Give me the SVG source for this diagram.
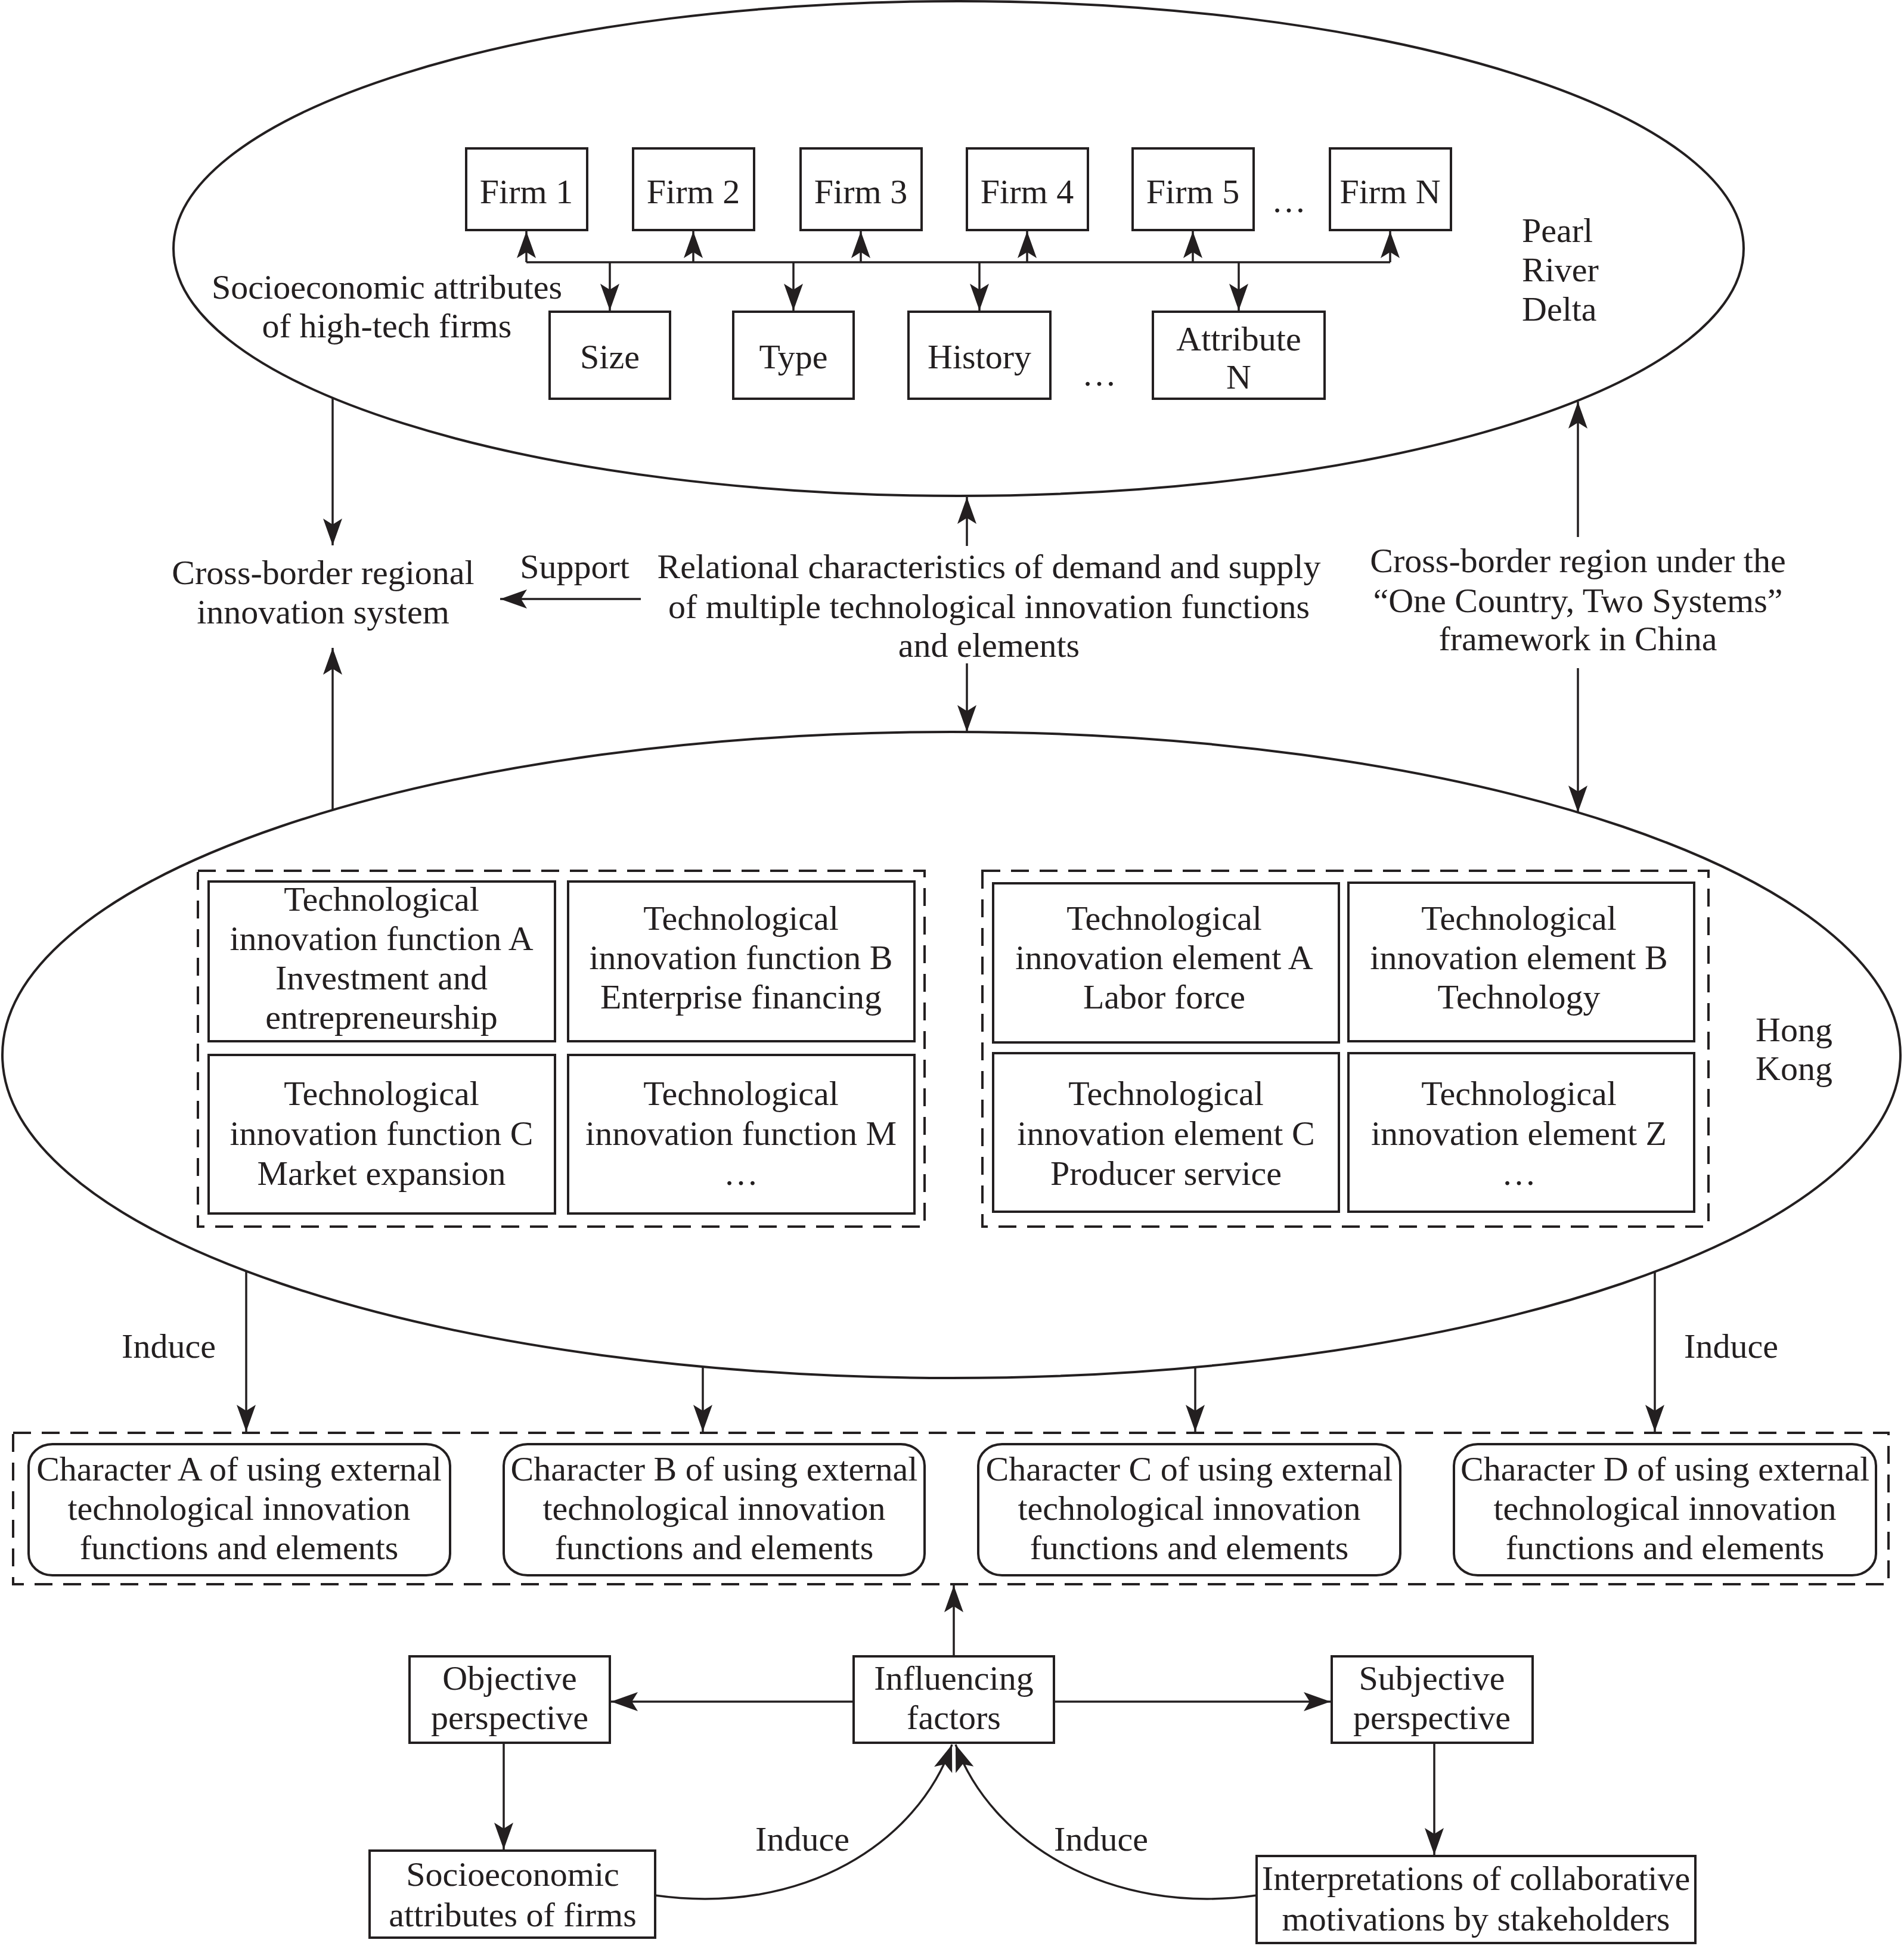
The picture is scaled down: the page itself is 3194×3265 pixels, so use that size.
<svg xmlns="http://www.w3.org/2000/svg" width="3194" height="3265" viewBox="0 0 3194 3265">
<style>
.bg{fill:#ffffff}
.sh{fill:none;stroke:#231f20;stroke-width:4}
.bx{fill:#ffffff;stroke:#231f20;stroke-width:4}
.ds{fill:none;stroke:#231f20;stroke-width:4;stroke-dasharray:30 18}
.ln{fill:none;stroke:#231f20;stroke-width:3.5;marker-end:url(#ah)}
.pl{fill:none;stroke:#231f20;stroke-width:3.5}
text{font-family:"Liberation Serif","Times New Roman",serif;font-size:58px;fill:#231f20}
.c{text-anchor:middle}
.l{text-anchor:start}
</style>
<defs>
<marker id="ah" viewBox="0 0 48 36" markerWidth="48" markerHeight="36" refX="46" refY="18" orient="auto" markerUnits="userSpaceOnUse">
<path d="M1,2 L46,18 L1,34 L11,18 Z" fill="#231f20"/>
</marker>
</defs>
<rect class="bg" x="0" y="0" width="3194" height="3265"/>

<g id="prd-region">
<ellipse class="sh" cx="1608" cy="417" rx="1317" ry="415"/>
<text class="l"><tspan x="2553" y="406">Pearl</tspan><tspan x="2553" y="472">River</tspan><tspan x="2553" y="538">Delta</tspan></text>
<text class="c"><tspan x="649" y="501">Socioeconomic attributes</tspan><tspan x="649" y="566">of high-tech firms</tspan></text>
<text class="c" x="2162" y="356">…</text>
<text class="c" x="1844" y="647">…</text>
</g>

<g id="firm1"><rect class="bx" x="782" y="249" width="203" height="137"/><text class="c" x="883" y="341">Firm 1</text></g>
<g id="firm2"><rect class="bx" x="1062" y="249" width="203" height="137"/><text class="c" x="1163" y="341">Firm 2</text></g>
<g id="firm3"><rect class="bx" x="1343" y="249" width="203" height="137"/><text class="c" x="1444" y="341">Firm 3</text></g>
<g id="firm4"><rect class="bx" x="1622" y="249" width="203" height="137"/><text class="c" x="1723" y="341">Firm 4</text></g>
<g id="firm5"><rect class="bx" x="1900" y="249" width="203" height="137"/><text class="c" x="2001" y="341">Firm 5</text></g>
<g id="firmN"><rect class="bx" x="2231" y="249" width="203" height="137"/><text class="c" x="2332" y="341">Firm N</text></g>

<g id="size"><rect class="bx" x="922" y="523" width="202" height="146"/><text class="c" x="1023" y="618">Size</text></g>
<g id="type"><rect class="bx" x="1230" y="523" width="202" height="146"/><text class="c" x="1331" y="618">Type</text></g>
<g id="history"><rect class="bx" x="1524" y="523" width="238" height="146"/><text class="c" x="1643" y="618">History</text></g>
<g id="attributeN"><rect class="bx" x="1934" y="523" width="288" height="146"/><text class="c"><tspan x="2078" y="588">Attribute</tspan><tspan x="2078" y="652">N</tspan></text></g>

<g id="cross-border-ris"><text class="c"><tspan x="542" y="980">Cross-border regional</tspan><tspan x="542" y="1046">innovation system</tspan></text></g>
<g id="relational"><text class="c"><tspan x="1659" y="970">Relational characteristics of demand and supply</tspan><tspan x="1659" y="1037">of multiple technological innovation functions</tspan><tspan x="1659" y="1102">and elements</tspan></text></g>
<g id="one-country"><text class="c"><tspan x="2647" y="960">Cross-border region under the</tspan><tspan x="2647" y="1027">“One Country, Two Systems”</tspan><tspan x="2647" y="1091">framework in China</tspan></text></g>

<g id="hk-region">
<ellipse class="sh" cx="1596" cy="1770" rx="1592" ry="542"/>
<text class="l"><tspan x="2945" y="1747">Hong</tspan><tspan x="2945" y="1812">Kong</tspan></text>
</g>

<g id="functions">
<rect class="ds" x="332" y="1461" width="1219" height="597"/>
<g id="funcA"><rect class="bx" x="350" y="1479" width="581" height="268"/><text class="c"><tspan x="640" y="1528">Technological</tspan><tspan x="640" y="1594">innovation function A</tspan><tspan x="640" y="1660">Investment and</tspan><tspan x="640" y="1726">entrepreneurship</tspan></text></g>
<g id="funcB"><rect class="bx" x="953" y="1479" width="581" height="268"/><text class="c"><tspan x="1243" y="1560">Technological</tspan><tspan x="1243" y="1626">innovation function B</tspan><tspan x="1243" y="1692">Enterprise financing</tspan></text></g>
<g id="funcC"><rect class="bx" x="350" y="1770" width="581" height="266"/><text class="c"><tspan x="640" y="1854">Technological</tspan><tspan x="640" y="1921">innovation function C</tspan><tspan x="640" y="1988">Market expansion</tspan></text></g>
<g id="funcM"><rect class="bx" x="953" y="1770" width="581" height="266"/><text class="c"><tspan x="1243" y="1854">Technological</tspan><tspan x="1243" y="1921">innovation function M</tspan><tspan x="1243" y="1988">…</tspan></text></g>
</g>

<g id="elements">
<rect class="ds" x="1648" y="1461" width="1218" height="597"/>
<g id="elemA"><rect class="bx" x="1666" y="1482" width="580" height="267"/><text class="c"><tspan x="1953" y="1560">Technological</tspan><tspan x="1953" y="1626">innovation element A</tspan><tspan x="1953" y="1692">Labor force</tspan></text></g>
<g id="elemB"><rect class="bx" x="2262" y="1481" width="580" height="266"/><text class="c"><tspan x="2548" y="1560">Technological</tspan><tspan x="2548" y="1626">innovation element B</tspan><tspan x="2548" y="1692">Technology</tspan></text></g>
<g id="elemC"><rect class="bx" x="1666" y="1767" width="580" height="266"/><text class="c"><tspan x="1956" y="1854">Technological</tspan><tspan x="1956" y="1921">innovation element C</tspan><tspan x="1956" y="1988">Producer service</tspan></text></g>
<g id="elemZ"><rect class="bx" x="2262" y="1767" width="580" height="266"/><text class="c"><tspan x="2548" y="1854">Technological</tspan><tspan x="2548" y="1921">innovation element Z</tspan><tspan x="2548" y="1988">…</tspan></text></g>
</g>

<g id="characters">
<rect class="ds" x="22" y="2404" width="3146" height="254"/>
<g id="charA"><rect class="bx" x="48" y="2423" width="707" height="220" rx="40" ry="36"/><text class="c"><tspan x="401" y="2484">Character A of using external</tspan><tspan x="401" y="2550">technological innovation</tspan><tspan x="401" y="2616">functions and elements</tspan></text></g>
<g id="charB"><rect class="bx" x="845" y="2423" width="706" height="220" rx="40" ry="36"/><text class="c"><tspan x="1198" y="2484">Character B of using external</tspan><tspan x="1198" y="2550">technological innovation</tspan><tspan x="1198" y="2616">functions and elements</tspan></text></g>
<g id="charC"><rect class="bx" x="1641" y="2423" width="708" height="220" rx="40" ry="36"/><text class="c"><tspan x="1995" y="2484">Character C of using external</tspan><tspan x="1995" y="2550">technological innovation</tspan><tspan x="1995" y="2616">functions and elements</tspan></text></g>
<g id="charD"><rect class="bx" x="2439" y="2423" width="708" height="220" rx="40" ry="36"/><text class="c"><tspan x="2793" y="2484">Character D of using external</tspan><tspan x="2793" y="2550">technological innovation</tspan><tspan x="2793" y="2616">functions and elements</tspan></text></g>
</g>

<g id="objective"><rect class="bx" x="687" y="2779" width="336" height="145"/><text class="c"><tspan x="855" y="2835">Objective</tspan><tspan x="855" y="2901">perspective</tspan></text></g>
<g id="influencing"><rect class="bx" x="1432" y="2779" width="336" height="145"/><text class="c"><tspan x="1600" y="2835">Influencing</tspan><tspan x="1600" y="2901">factors</tspan></text></g>
<g id="subjective"><rect class="bx" x="2234" y="2779" width="337" height="145"/><text class="c"><tspan x="2402" y="2835">Subjective</tspan><tspan x="2402" y="2901">perspective</tspan></text></g>
<g id="socio-firms"><rect class="bx" x="620" y="3105" width="479" height="146"/><text class="c"><tspan x="860" y="3164">Socioeconomic</tspan><tspan x="860" y="3232">attributes of firms</tspan></text></g>
<g id="interpretations"><rect class="bx" x="2108" y="3114" width="736" height="146"/><text class="c"><tspan x="2476" y="3171">Interpretations of collaborative</tspan><tspan x="2476" y="3239">motivations by stakeholders</tspan></text></g>

<g id="connectors">
<path class="pl" d="M883,440 L2332,440"/>
<line class="ln" x1="883" y1="440" x2="883" y2="388"/>
<line class="ln" x1="1163" y1="440" x2="1163" y2="388"/>
<line class="ln" x1="1444" y1="440" x2="1444" y2="388"/>
<line class="ln" x1="1723" y1="440" x2="1723" y2="388"/>
<line class="ln" x1="2001" y1="440" x2="2001" y2="388"/>
<line class="ln" x1="2332" y1="440" x2="2332" y2="388"/>
<line class="ln" x1="1023" y1="440" x2="1023" y2="521"/>
<line class="ln" x1="1331" y1="440" x2="1331" y2="521"/>
<line class="ln" x1="1643" y1="440" x2="1643" y2="521"/>
<line class="ln" x1="2078" y1="440" x2="2078" y2="521"/>

<line class="ln" x1="558" y1="667" x2="558" y2="915"/>
<line class="ln" x1="558" y1="1359" x2="558" y2="1087"/>
<line class="ln" x1="1075" y1="1005" x2="839" y2="1005"/>
<line class="ln" x1="1622" y1="916" x2="1622" y2="834"/>
<line class="ln" x1="1622" y1="1113" x2="1622" y2="1228"/>
<line class="ln" x1="2647" y1="901" x2="2647" y2="674"/>
<line class="ln" x1="2647" y1="1121" x2="2647" y2="1363"/>

<line class="ln" x1="413" y1="2133" x2="413" y2="2402"/>
<line class="ln" x1="1179" y1="2294" x2="1179" y2="2402"/>
<line class="ln" x1="2005" y1="2295" x2="2005" y2="2402"/>
<line class="ln" x1="2776" y1="2134" x2="2776" y2="2402"/>
<text class="c" x="283" y="2278">Induce</text>
<text class="c" x="2904" y="2278">Induce</text>
<text class="c" x="964" y="970">Support</text>

<line class="ln" x1="1600" y1="2779" x2="1600" y2="2660"/>
<line class="ln" x1="1432" y1="2855" x2="1025" y2="2855"/>
<line class="ln" x1="1768" y1="2855" x2="2232" y2="2855"/>
<line class="ln" x1="845" y1="2924" x2="845" y2="3103"/>
<line class="ln" x1="2406" y1="2924" x2="2406" y2="3112"/>
<path class="ln" d="M1099,3180 C1350,3215 1540,3090 1597,2927"/>
<path class="ln" d="M2108,3180 C1860,3215 1662,3090 1603,2927"/>
<text class="c" x="1346" y="3105">Induce</text>
<text class="c" x="1847" y="3105">Induce</text>
</g>
</svg>
